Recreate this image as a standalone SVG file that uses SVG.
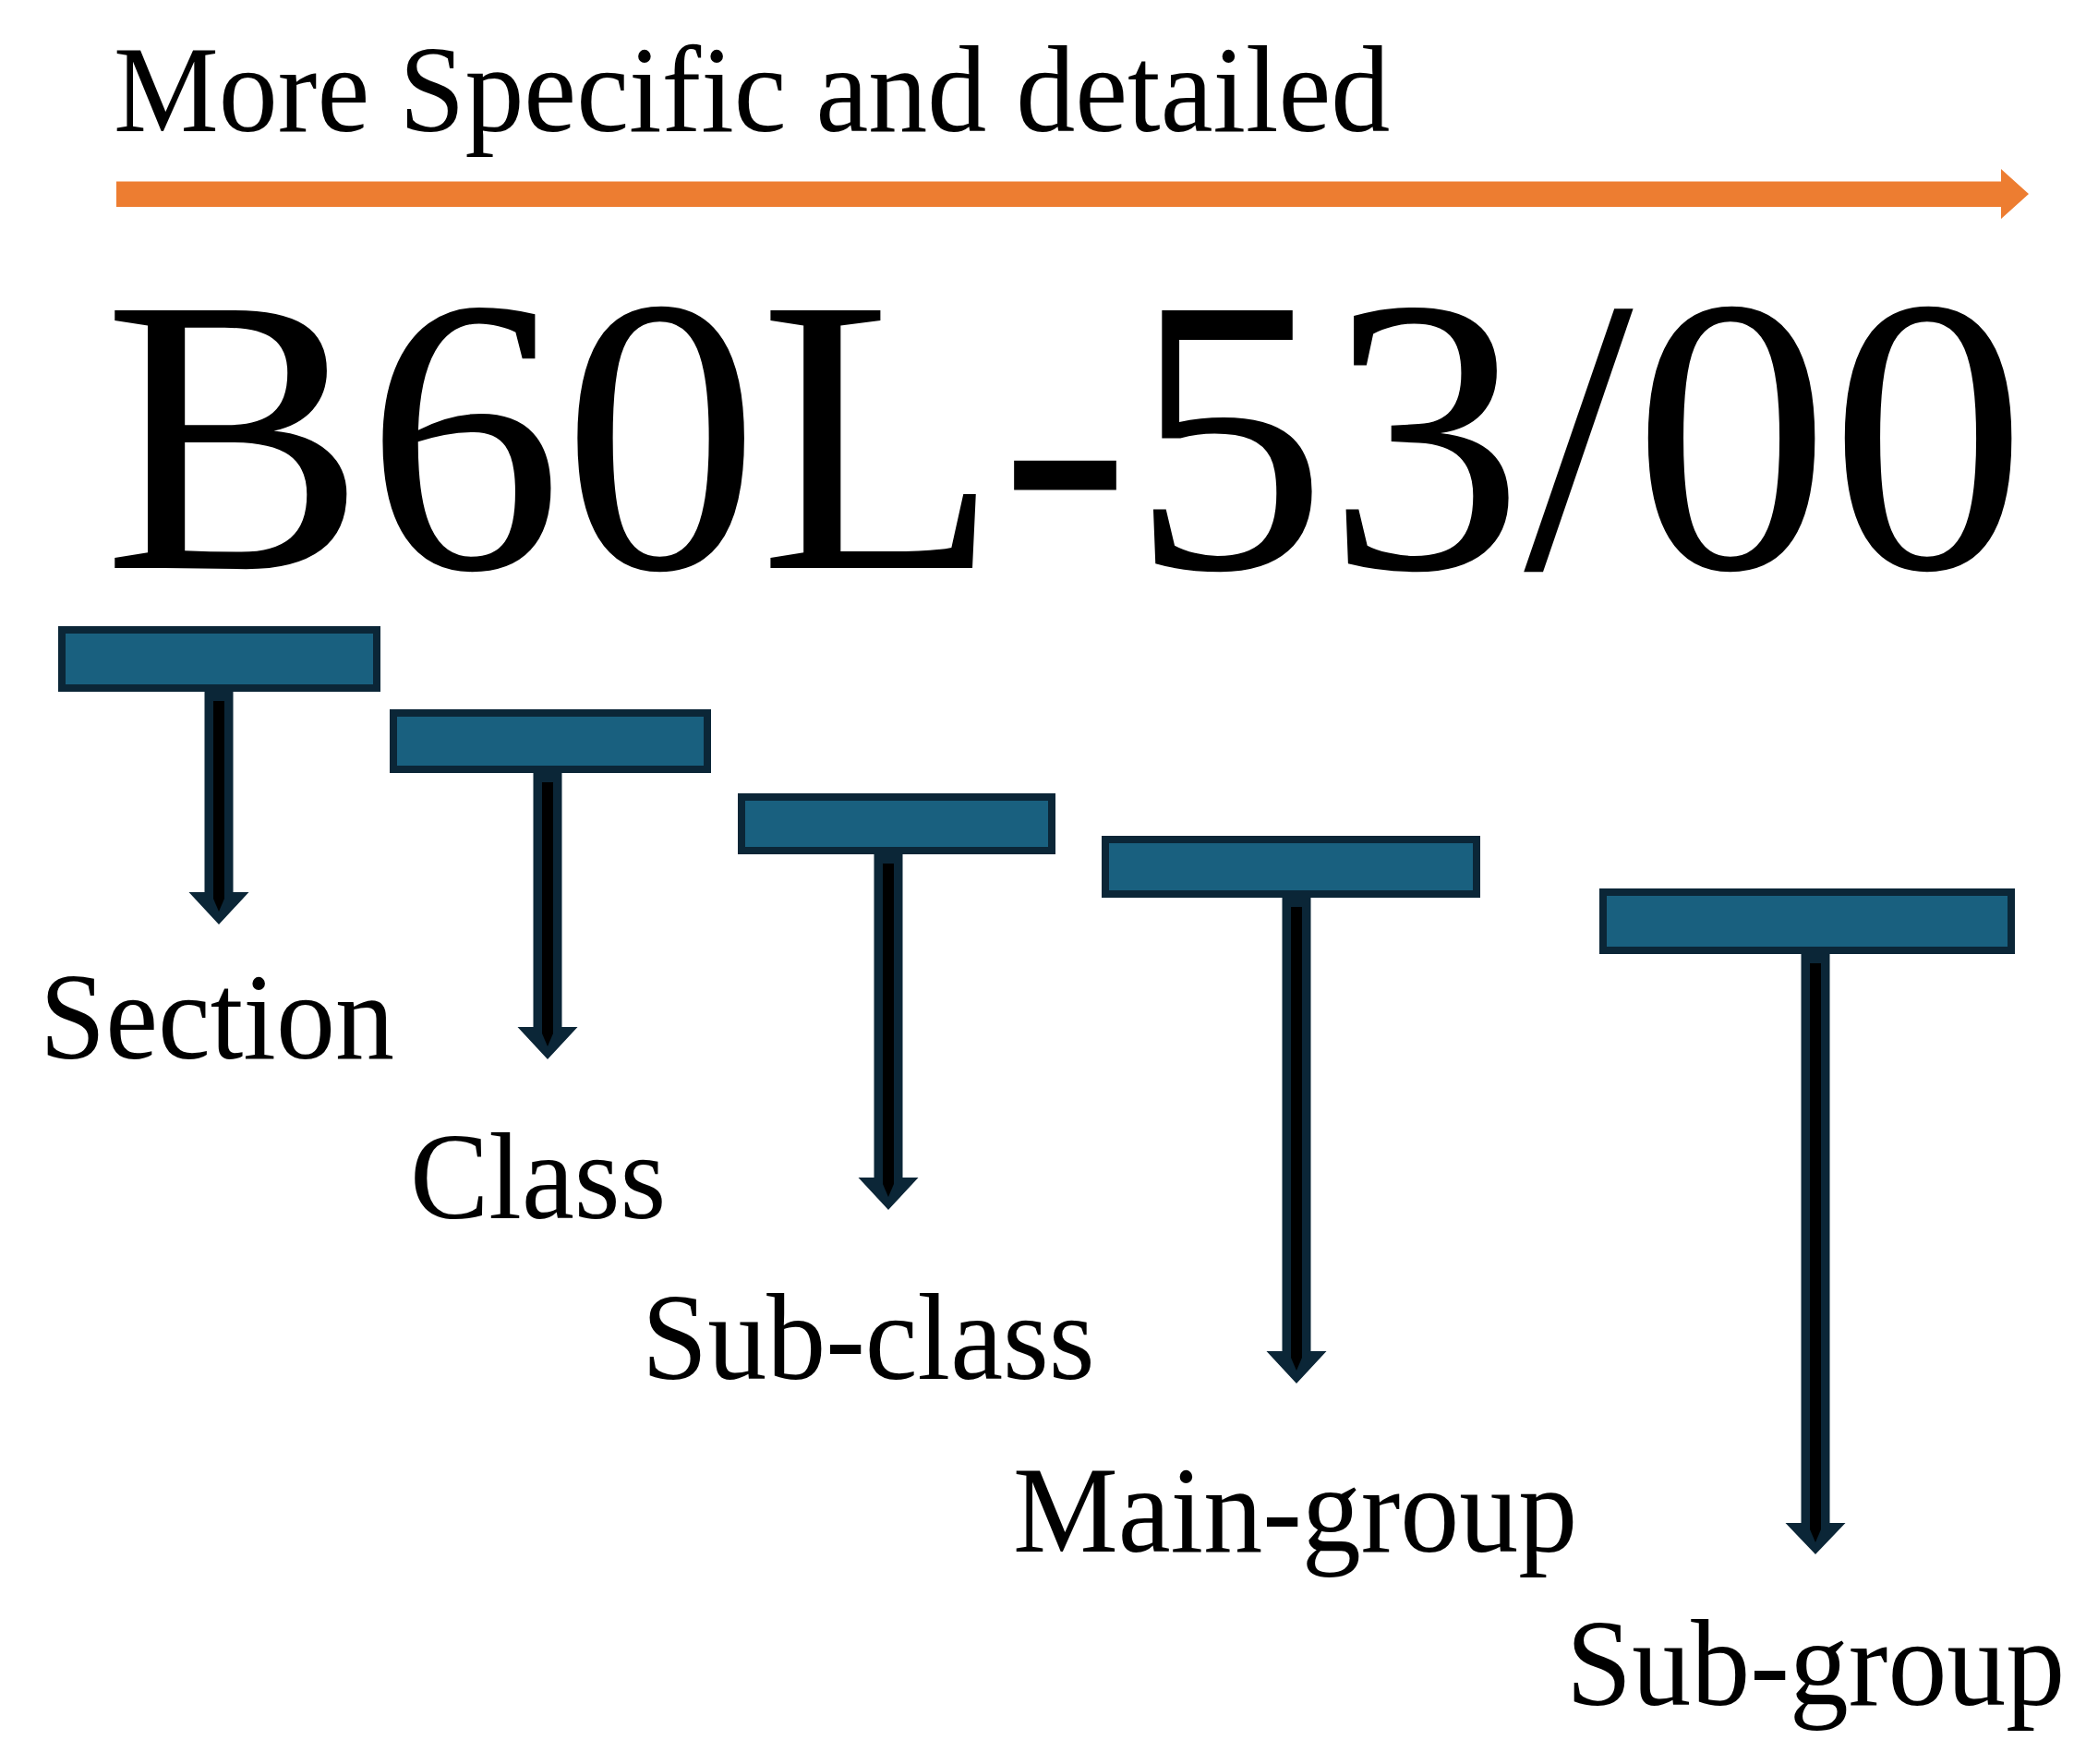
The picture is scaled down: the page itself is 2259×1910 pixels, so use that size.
<svg xmlns="http://www.w3.org/2000/svg" width="2259" height="1910" viewBox="0 0 2259 1910">
<style>
  .lbl { font-family: "Liberation Serif", "Times New Roman", serif; font-size: 128px; fill: #000; }
  .code { font-family: "Liberation Serif", "Times New Roman", serif; font-size: 426px; fill: #000; }
  .bar { fill: #19607F; stroke: #0B2637; stroke-width: 8; }
  .stem { fill: #0B2637; }
  .core { fill: #000; }
  .orange { fill: #ED7D31; }
</style>
<rect x="0" y="0" width="2259" height="1910" fill="#ffffff"/>

<g id="direction">
  <text class="lbl" transform="translate(123,141.5) scale(1,1.05)">More Specific and detailed</text>
  <polygon class="orange" points="126,196.5 2167,196.5 2167,183 2197,210 2167,237 2167,224 126,224"/>
</g>

<g id="code">
  <text class="code" x="112" y="615">B60L-53/00</text>
</g>

<g id="connectors">
  <polygon class="stem" points="221.5,745 221.5,966 204.5,966 237,1001 269.5,966 252.5,966 252.5,745"/>
  <polygon class="core" points="231,759 231,973 237,987 243,973 243,759"/>

  <polygon class="stem" points="577.5,833 577.5,1112 560.5,1112 593,1147 625.5,1112 608.5,1112 608.5,833"/>
  <polygon class="core" points="587,847 587,1119 593,1133 599,1119 599,847"/>

  <polygon class="stem" points="946.5,921 946.5,1275 929.5,1275 962,1310 994.5,1275 977.5,1275 977.5,921"/>
  <polygon class="core" points="956,935 956,1282 962,1296 968,1282 968,935"/>

  <polygon class="stem" points="1388.5,968 1388.5,1463 1371.5,1463 1404,1498 1436.5,1463 1419.5,1463 1419.5,968"/>
  <polygon class="core" points="1398,982 1398,1470 1404,1484 1410,1470 1410,982"/>

  <polygon class="stem" points="1950.5,1029 1950.5,1649 1933.5,1649 1966,1683 1998.5,1649 1981.5,1649 1981.5,1029"/>
  <polygon class="core" points="1960,1043 1960,1656 1966,1670 1972,1656 1972,1043"/>
</g>

<g id="section">
  <rect class="bar" x="67" y="682" width="341" height="63"/>
  <text class="lbl" transform="translate(43,1146) scale(1,1.05)">Section</text>
</g>

<g id="class">
  <rect class="bar" x="426" y="772" width="340" height="61"/>
  <text class="lbl" transform="translate(444,1319) scale(1,1.05)">Class</text>
</g>

<g id="sub-class">
  <rect class="bar" x="803" y="863" width="336" height="58"/>
  <text class="lbl" transform="translate(695,1493) scale(1,1.05)">Sub-class</text>
</g>

<g id="main-group">
  <rect class="bar" x="1197" y="909" width="402" height="59"/>
  <text class="lbl" transform="translate(1097,1680) scale(1,1.05)">Main-group</text>
</g>

<g id="sub-group">
  <rect class="bar" x="1736" y="966" width="442" height="63"/>
  <text class="lbl" transform="translate(1696,1846) scale(1,1.05)">Sub-group</text>
</g>
</svg>
